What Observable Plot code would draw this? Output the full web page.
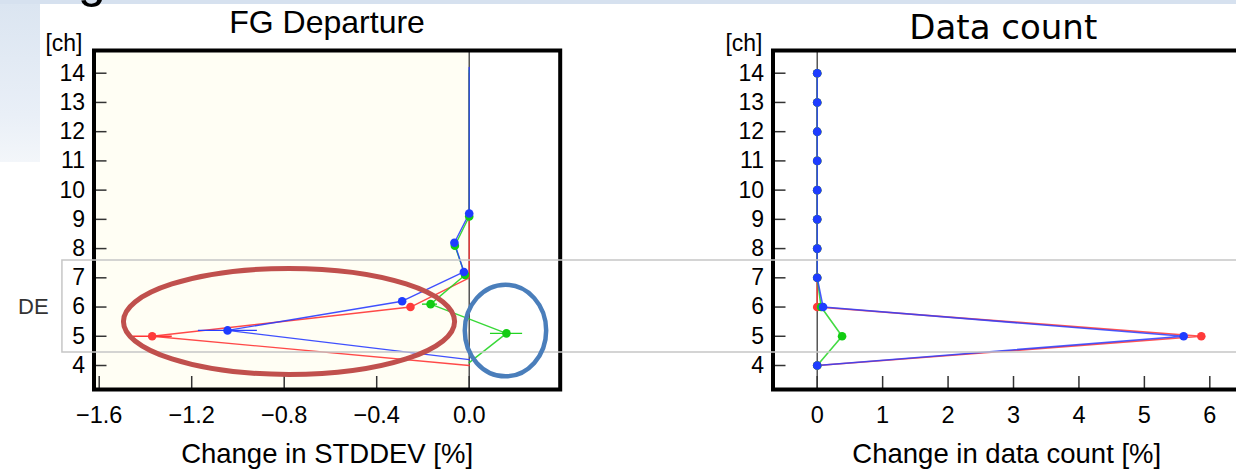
<!DOCTYPE html>
<html><head><meta charset="utf-8">
<script src="https://cdn.jsdelivr.net/npm/d3@7"></script>
<script src="https://cdn.jsdelivr.net/npm/@observablehq/plot@0.6"></script>
<style>
html,body{margin:0;padding:0;background:#fff;}
#page{position:relative;width:1236px;height:469px;overflow:hidden;background:#fff;font-family:"Liberation Sans",Arial,sans-serif;}
.abs{position:absolute;}
#leftChart svg,#rightChart svg{max-width:none !important;}
</style></head><body><div id="page">
<div class="abs" style="left:0;top:0;width:1236px;height:4px;background:#d6e1ef"></div>
<div class="abs" style="left:0;top:4px;width:40px;height:158px;background:linear-gradient(#dbe5f1,#e9eff7 70%,#f3f6fa)"></div>
<div class="abs" id="leftChart" style="left:0;top:0;width:640px"></div>
<div class="abs" id="rightChart" style="left:700px;top:0;width:536px"></div>
</div>
<script>
// ---- data ----
const channels = [14, 13, 12, 11, 10, 9, 8, 7, 6, 5, 4];
const chTicks = [4, 5, 6, 7, 8, 9, 10, 11, 12, 13, 14];

// FG departure: change in STDDEV [%]
const stdRed   = [0, 0, 0, 0, 0, 0, 0, 0, -0.254, -1.371, 0];
const stdGreen = [0, 0, 0, 0, 0, 0, -0.062, -0.018, -0.167, 0.161, 0];
const stdBlue  = [0, 0, 0, 0, 0, 0, -0.064, -0.023, -0.29, -1.045, 0];
const stdMarkedRed   = [6, 5];
const stdMarkedGreen = [9, 8, 7, 6, 5];
const stdMarkedBlue  = [9, 8, 7, 6, 5];
const errSeries = ["red", "blue", "green", "green"];
const errCh     = [5, 5, 5, 6];
const errLo     = [-1.453, -1.171, 0.092, -0.202];
const errHi     = [-1.284, -0.916, 0.231, -0.137];
const stdTicks = [-1.6, -1.2, -0.8, -0.4, 0.0];

// Data count: change in data count [%]
const cntRed   = [0, 0, 0, 0, 0, 0, 0, 0, 0, 5.87, 0];
const cntGreen = [0, 0, 0, 0, 0, 0, 0, 0, 0.06, 0.38, 0];
const cntBlue  = [0, 0, 0, 0, 0, 0, 0, 0, 0.09, 5.6, 0];
const cntTicks = [0, 1, 2, 3, 4, 5, 6];

// annotations (in data units of the left panel)
const deBand = {label: "DE", ch: 6, chTop: 7.592, chBottom: 4.445, xLeft: -1.759};
const ellipseRed  = {cx: -0.777, cy: 5.49, rx: 0.716, ry: 1.813};
const ellipseBlue = {cx: 0.159, cy: 5.18, rx: 0.176, ry: 1.567};

// ---- styling ----
const lineColor = {red: "#ff3535", green: "#22d422", blue: "#2a3dff"};
const dotColor  = {red: "#ff3a3a", green: "#12cc12", blue: "#1e3cff"};
const seriesDy  = {red: 0, green: -2.9, blue: -5.85};
const font = "Liberation Sans, Arial, sans-serif";
const yDomain = [3.179, 14.777];
const leftX = [-1.6225, 0.3935];
const rightX = [-0.6755, 6.469];
const rows = vals => channels.map((ch, i) => ({ch, v: vals[i]}));
const style = {background: "transparent", fontFamily: font, color: "#000", overflow: "visible", maxWidth: "none"};

function yAxis() {
  return Plot.axisY(chTicks, {anchor: "left", tickSize: -13, tickPadding: 22, fontSize: 23,
    stroke: "#333", fill: "#000", strokeWidth: 1.5, label: null});
}

// ---- left panel ----
const leftSeries = [["red", stdRed, stdMarkedRed], ["green", stdGreen, stdMarkedGreen], ["blue", stdBlue, stdMarkedBlue]];
const errRows = errCh.map((ch, i) => ({series: errSeries[i], ch, lo: errLo[i], hi: errHi[i]}));
const leftMarks = [
  Plot.rect([0], {x1: leftX[0], x2: 0, y1: yDomain[0], y2: yDomain[1], fill: "#fffef4"}),
  Plot.ruleX([0], {stroke: "#3a3a3a", strokeWidth: 1.3}),
  Plot.axisX(stdTicks, {anchor: "bottom", tickSize: -13, tickPadding: 30, tickFormat: d3.format(".1f"),
    fontSize: 23.5, stroke: "#333", fill: "#000", strokeWidth: 1.5, label: null}),
  yAxis()
];
for (const [s, vals] of leftSeries) {
  leftMarks.push(Plot.line(rows(vals), {x: "v", y: "ch", stroke: lineColor[s], strokeWidth: 1.4, strokeOpacity: 0.9, dy: seriesDy[s]}));
}
for (const s of ["red", "green", "blue"]) {
  leftMarks.push(Plot.ruleY(errRows.filter(d => d.series === s), {y: "ch", x1: "lo", x2: "hi", stroke: lineColor[s], strokeWidth: 1.4, dy: seriesDy[s]}));
}
for (const [s, vals, marked] of leftSeries) {
  leftMarks.push(Plot.dot(rows(vals).filter(d => marked.includes(d.ch)), {x: "v", y: "ch", r: 4.3, fill: dotColor[s], stroke: "none", dy: seriesDy[s]}));
}
leftMarks.push(
  Plot.frame({stroke: "#000", strokeWidth: 4}),
  Plot.text(["FG Departure"], {text: d => d, frameAnchor: "top", dy: -27.5, lineAnchor: "middle", fontSize: 32}),
  Plot.text(["[ch]"], {text: d => d, frameAnchor: "top-left", dx: -11.5, dy: -6.5, textAnchor: "end", lineAnchor: "middle", fontSize: 23}),
  Plot.text(["Change in STDDEV [%]"], {text: d => d, frameAnchor: "bottom", dy: 65, lineAnchor: "middle", fontSize: 27.5})
);
const left = Plot.plot({
  width: 640, height: 469, marginLeft: 93.5, marginRight: 80.3, marginTop: 50, marginBottom: 80,
  style, x: {domain: leftX}, y: {domain: yDomain}, marks: leftMarks
});
document.getElementById("leftChart").append(left);

// ---- right panel ----
const rightSeries = [["red", cntRed], ["green", cntGreen], ["blue", cntBlue]];
const rightMarks = [
  Plot.ruleX([0], {stroke: "#3a3a3a", strokeWidth: 1.3}),
  Plot.axisX(cntTicks, {anchor: "bottom", tickSize: -13, tickPadding: 30, tickFormat: d3.format("d"),
    fontSize: 23.5, stroke: "#333", fill: "#000", strokeWidth: 1.5, label: null}),
  yAxis()
];
for (const [s, vals] of rightSeries) {
  rightMarks.push(Plot.line(rows(vals), {x: "v", y: "ch", stroke: lineColor[s], strokeWidth: 1.6, strokeOpacity: 0.85}));
}
for (const [s, vals] of rightSeries) {
  rightMarks.push(Plot.dot(rows(vals), {x: "v", y: "ch", r: 4.3, fill: dotColor[s], stroke: "none"}));
}
rightMarks.push(
  Plot.frame({stroke: "#000", strokeWidth: 4}),
  Plot.text(["Data count"], {text: d => d, frameAnchor: "top", dx: -3.5, dy: -22.6, lineAnchor: "middle", fontSize: 34, fontFamily: "DejaVu Sans", fontWeight: 400}),
  Plot.text(["[ch]"], {text: d => d, frameAnchor: "top-left", dx: -10.5, dy: -6.5, textAnchor: "end", lineAnchor: "middle", fontSize: 23}),
  Plot.text(["Change in data count [%]"], {text: d => d, frameAnchor: "bottom", dy: 65, lineAnchor: "middle", fontSize: 27.5})
);
const right = Plot.plot({
  width: 536, height: 469, marginLeft: 72.5, marginRight: -4, marginTop: 50, marginBottom: 80,
  style, x: {domain: rightX}, y: {domain: yDomain}, marks: rightMarks
});
document.getElementById("rightChart").append(right);

// ---- annotation overlay ----
const sx = left.scale("x"), sy = left.scale("y");
const ov = d3.select("#page").append("svg").attr("class", "abs")
  .attr("width", 1236).attr("height", 469).style("left", 0).style("top", 0).style("overflow", "hidden");
ov.append("text").attr("x", 78).attr("y", -3.5).attr("font-size", 50).attr("font-family", font).attr("fill", "#000").text("g");
const bx = sx.apply(deBand.xLeft), byT = sy.apply(deBand.chTop), byB = sy.apply(deBand.chBottom);
ov.append("path").attr("d", `M1240,${byT}H${bx}V${byB}H1240`).attr("fill", "none").attr("stroke", "#c6c6c6").attr("stroke-width", 1.5);
ov.append("text").attr("x", 18).attr("y", sy.apply(deBand.ch)).attr("dy", "0.35em").attr("font-size", 22)
  .attr("font-family", font).attr("fill", "#333").text(deBand.label);
for (const [e, c, w] of [[ellipseRed, "#c0504d", 5], [ellipseBlue, "#4a7ebb", 4.5]]) {
  const cx = sx.apply(e.cx), cy = sy.apply(e.cy);
  ov.append("ellipse").attr("cx", cx).attr("cy", cy)
    .attr("rx", sx.apply(e.cx + e.rx) - cx).attr("ry", sy.apply(e.cy - e.ry) - cy)
    .attr("fill", "none").attr("stroke", c).attr("stroke-width", w);
}
</script>
</body></html>
